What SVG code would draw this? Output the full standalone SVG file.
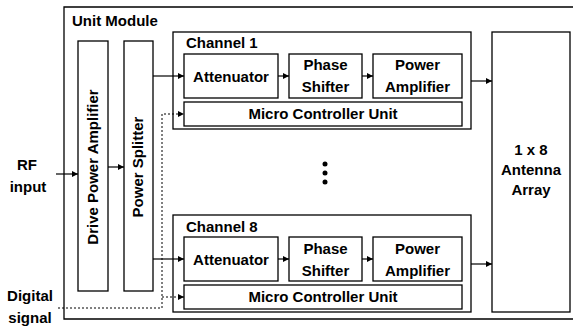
<svg xmlns="http://www.w3.org/2000/svg" width="573" height="329" viewBox="0 0 573 329">
<defs>
<style>
.box{fill:#fff;stroke:#000;stroke-width:1.3}
.t{font-family:"Liberation Sans",Arial,sans-serif;font-weight:bold;font-size:15px;fill:#000}
.m{text-anchor:middle}
.c{fill:none;stroke:#000;stroke-width:1.2}
.d{fill:none;stroke:#000;stroke-width:1;stroke-dasharray:2 2}
</style>
<marker id="ah" markerUnits="userSpaceOnUse" markerWidth="7" markerHeight="6" refX="6" refY="3" orient="auto">
<path d="M0,0 L6,3 L0,6 z" fill="#000"/>
</marker>
</defs>
<rect width="573" height="329" fill="#fff"/>
<g id="unit-module">
<path d="M575,7 H64 V319 H575" class="box" fill="none"/>
<text class="t" x="72" y="26">Unit Module</text>
</g>
<g id="rf-input">
<text class="t m" x="27" y="170">RF</text>
<text class="t m" x="28" y="192">input</text>
</g>
<g id="digital-signal">
<text class="t m" x="30" y="301">Digital</text>
<text class="t m" x="30" y="323">signal</text>
</g>
<g id="drive-pa">
<rect class="box" x="78" y="41" width="30" height="250"/>
<text class="t m" transform="translate(98,167) rotate(-90)">Drive Power Amplifier</text>
</g>
<g id="power-splitter">
<rect class="box" x="124" y="41" width="29" height="250"/>
<text class="t m" transform="translate(143,167) rotate(-90)">Power Splitter</text>
</g>
<g id="channel1">
<rect class="box" x="173" y="32" width="298" height="97"/>
<text class="t" x="186" y="48">Channel 1</text>
</g>
<g id="att1">
<rect class="box" x="184" y="54" width="94" height="44"/>
<text class="t m" x="231" y="82">Attenuator</text>
</g>
<g id="ps1">
<rect class="box" x="289" y="54" width="73" height="44"/>
<text class="t m" x="325.5" y="70">Phase</text>
<text class="t m" x="325.5" y="92">Shifter</text>
</g>
<g id="pa1">
<rect class="box" x="373" y="54" width="89" height="44"/>
<text class="t m" x="417.5" y="70">Power</text>
<text class="t m" x="417.5" y="92">Amplifier</text>
</g>
<g id="mcu1">
<rect class="box" x="184" y="102" width="278" height="24"/>
<text class="t m" x="323" y="119">Micro Controller Unit</text>
</g>
<g id="dots">
<circle cx="325" cy="164" r="2.5"/>
<circle cx="325" cy="173" r="2.5"/>
<circle cx="325" cy="182" r="2.5"/>
</g>
<g id="channel8">
<rect class="box" x="173" y="215" width="298" height="97"/>
<text class="t" x="186" y="232">Channel 8</text>
</g>
<g id="att8">
<rect class="box" x="184" y="237" width="94" height="44"/>
<text class="t m" x="231" y="265">Attenuator</text>
</g>
<g id="ps8">
<rect class="box" x="289" y="237" width="73" height="44"/>
<text class="t m" x="325.5" y="254">Phase</text>
<text class="t m" x="325.5" y="276">Shifter</text>
</g>
<g id="pa8">
<rect class="box" x="373" y="237" width="89" height="44"/>
<text class="t m" x="417.5" y="254">Power</text>
<text class="t m" x="417.5" y="276">Amplifier</text>
</g>
<g id="mcu8">
<rect class="box" x="184" y="285" width="278" height="24"/>
<text class="t m" x="323" y="302">Micro Controller Unit</text>
</g>
<g id="antenna">
<rect class="box" x="492" y="32" width="78" height="280"/>
<text class="t m" x="531" y="155">1 x 8</text>
<text class="t m" x="531" y="175">Antenna</text>
<text class="t m" x="531" y="195">Array</text>
</g>
<g id="connectors">
<line class="c" x1="56" y1="174" x2="78" y2="174" marker-end="url(#ah)"/>
<line class="c" x1="108" y1="167" x2="124" y2="167" marker-end="url(#ah)"/>
<line class="c" x1="153" y1="76" x2="184" y2="76" marker-end="url(#ah)"/>
<line class="c" x1="153" y1="259" x2="184" y2="259" marker-end="url(#ah)"/>
<line class="c" x1="278" y1="76" x2="289" y2="76" marker-end="url(#ah)"/>
<line class="c" x1="362" y1="76" x2="373" y2="76" marker-end="url(#ah)"/>
<line class="c" x1="278" y1="259" x2="289" y2="259" marker-end="url(#ah)"/>
<line class="c" x1="362" y1="259" x2="373" y2="259" marker-end="url(#ah)"/>
<line class="c" x1="471" y1="81" x2="492" y2="81" marker-end="url(#ah)"/>
<line class="c" x1="471" y1="264" x2="492" y2="264" marker-end="url(#ah)"/>
<path class="d" d="M58,308 H162 V114 H184" marker-end="url(#ah)"/>
<path class="d" d="M162,297 H184" marker-end="url(#ah)"/>
</g>
</svg>
